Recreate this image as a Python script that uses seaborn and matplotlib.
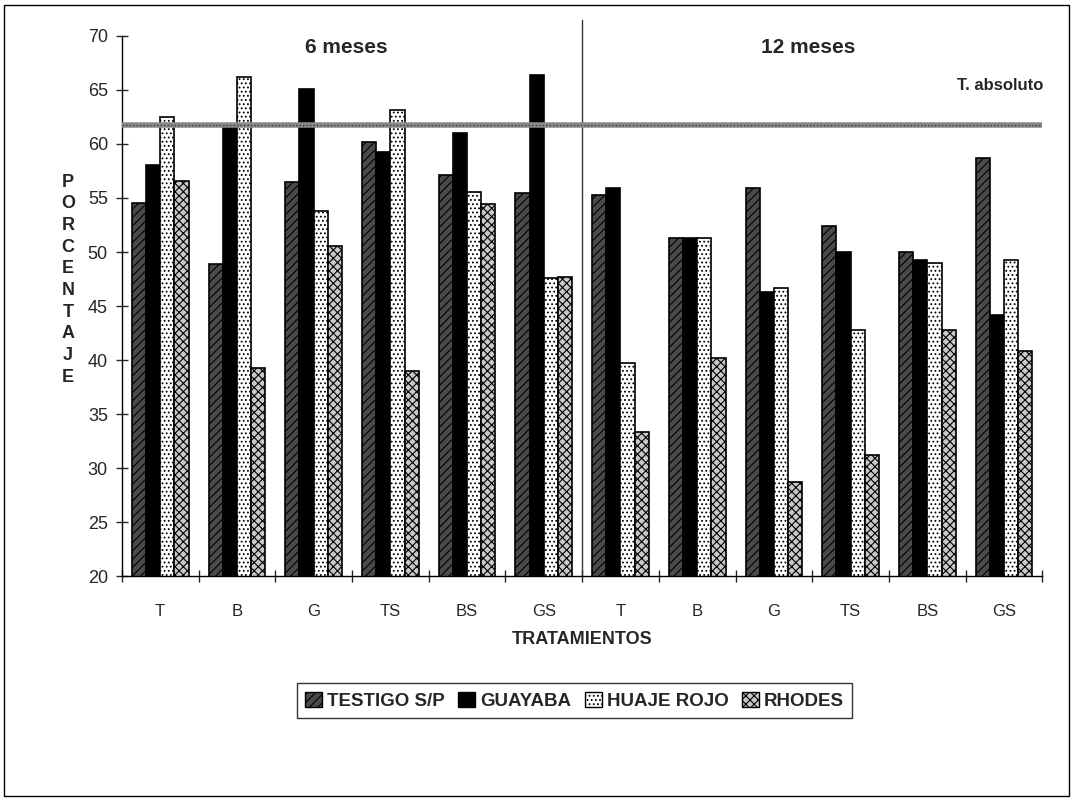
import numpy as np
import pandas as pd
import matplotlib
matplotlib.use("Agg")
import matplotlib.pyplot as plt
import seaborn as sns
from matplotlib.patches import Rectangle, Patch

# datos
periodos = ["6 meses", "12 meses"]
tratamientos = ["T", "B", "G", "TS", "BS", "GS"]
series = ["TESTIGO S/P", "GUAYABA", "HUAJE ROJO", "RHODES"]

testigo = [54.5, 48.9, 56.5, 60.2, 57.1, 55.5, 55.3, 51.3, 55.9, 52.4, 50.0, 58.7]
guayaba = [58.1, 61.7, 65.1, 59.3, 61.0, 66.4, 55.9, 51.3, 46.3, 50.0, 49.3, 44.2]
huaje = [62.5, 66.2, 53.8, 63.1, 55.6, 47.6, 39.7, 51.3, 46.7, 42.8, 49.0, 49.3]
rhodes = [56.6, 39.3, 50.6, 39.0, 54.4, 47.7, 33.3, 40.2, 28.7, 31.2, 42.8, 40.8]
t_absoluto = 61.8

sns.set_theme(style="white")
plt.rcParams['font.family'] = ['Liberation Sans', 'DejaVu Sans']
plt.rcParams['hatch.color'] = '#9a9a9a'
plt.rcParams['hatch.linewidth'] = 0.8

pos = [p + "-" + t for p in periodos for t in tratamientos]
df = pd.DataFrame({
    "pos": pos * 4,
    "valor": testigo + guayaba + huaje + rhodes,
    "serie": [s for s in series for _ in pos],
})

colores = ["#4a4a4a", "#000000", "#ffffff", "#c8c8c8"]
tramas = ["////", "", "....", "xxxx"]

fig = plt.figure(figsize=(10.78, 7.99), dpi=100)
ax = fig.add_axes([0.113, 0.279, 0.854, 0.676])
sns.barplot(data=df, x="pos", y="valor", hue="serie", order=pos, hue_order=series,
            palette=colores, width=0.74, edgecolor="black", linewidth=1.2,
            saturation=1, legend=False, ax=ax)

for cont, h in zip(ax.containers, tramas):
    for b in cont:
        b.set_hatch(h)

ax.set_ylim(20, 70)
ax.set_xlim(-0.5, 11.5)
ax.set_yticks(range(20, 71, 5))
ax.set_xticks(range(12))
ax.set_xticklabels(tratamientos * 2)
ax.set_xticks(np.arange(-0.5, 12, 1), minor=True)
ax.tick_params(axis="x", which="major", length=0, labelsize=12, pad=20)
ax.tick_params(axis="x", which="minor", length=8, width=1, direction="inout", bottom=True)
ax.tick_params(axis="y", length=8, width=1, direction="inout", labelsize=13, left=True, pad=6)
ax.set_xlabel("")
ax.set_ylabel("")
for s in ["top", "right"]:
    ax.spines[s].set_visible(False)
for s in ["left", "bottom"]:
    ax.spines[s].set_color("black")
    ax.spines[s].set_linewidth(1)

# linea de referencia
ax.axhline(t_absoluto, color="#8a8a8a", lw=4, zorder=5)
ax.axhline(t_absoluto, color="#3a3a3a", lw=1, ls=(0, (1, 1.5)), zorder=6)
ax.axvline(5.5, ymax=1.03, color="#333333", lw=1, clip_on=False)

ax.text(2.43, 68.9, "6 meses", ha="center", va="center", fontsize=15, fontweight="bold")
ax.text(8.45, 68.9, "12 meses", ha="center", va="center", fontsize=15, fontweight="bold")
ax.text(10.95, 65.4, "T. absoluto", ha="center", va="center", fontsize=12, fontweight="bold")

fig.text(0.063, 0.65, "\n".join("PORCENTAJE"), ha="center", va="center",
         fontsize=13, fontweight="bold", linespacing=1.36)
fig.text(0.54, 0.199, "TRATAMIENTOS", ha="center", va="center", fontsize=13, fontweight="bold")

handles = [Patch(facecolor=c, edgecolor="black", hatch=h) for c, h in zip(colores, tramas)]
leg = fig.legend(handles, series, loc="center", bbox_to_anchor=(0.533, 0.123), ncol=4,
                 frameon=True, fancybox=False, edgecolor="black", handlelength=0.9,
                 handleheight=0.9, handletextpad=0.25, columnspacing=0.75,
                 prop={"weight": "bold", "size": 13.5}, borderpad=0.45)
leg.get_frame().set_linewidth(1)

fig.patches.append(Rectangle((0.004, 0.004), 0.988, 0.99, transform=fig.transFigure,
                             fill=False, edgecolor="black", lw=1))

plt.savefig("out.png", dpi=100)
